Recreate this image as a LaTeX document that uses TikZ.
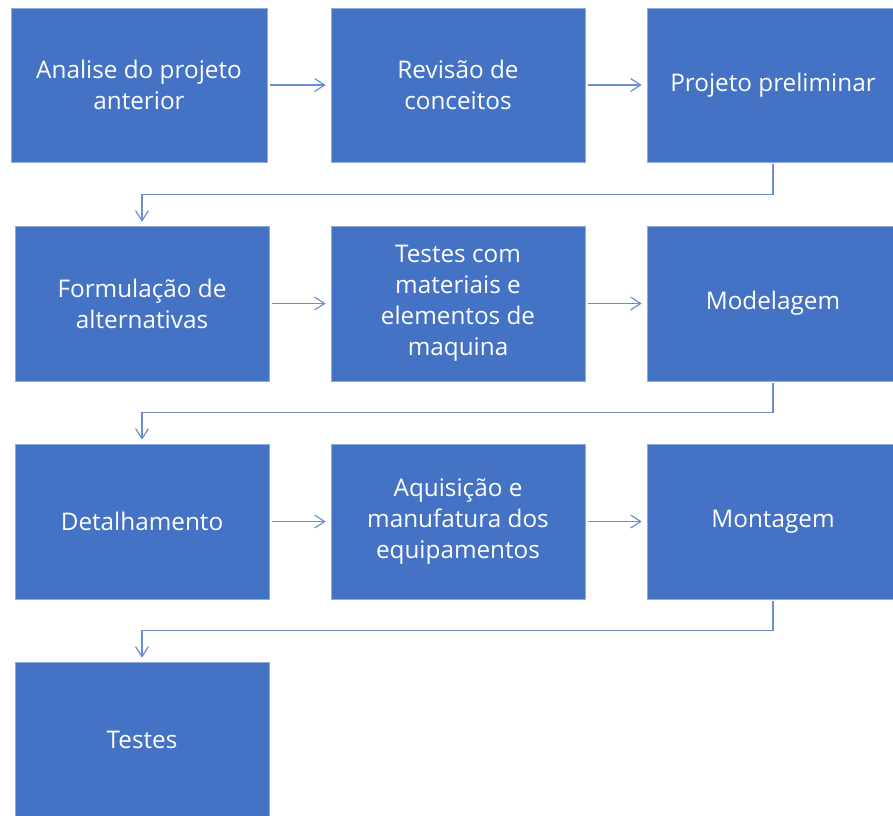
\documentclass[tikz,border=0pt]{standalone}
\usepackage{fontspec}
\setmainfont{Open Sans}
\usetikzlibrary{arrows.meta}
\definecolor{boxblue}{HTML}{4472C4}
\definecolor{boxedge}{HTML}{8FAADC}
\definecolor{arrowblue}{HTML}{6A8FD0}
\tikzset{
  box/.style={rectangle, fill=boxblue, draw=boxedge, line width=0.6pt, text=white,
    align=center, font=\fontsize{24.3}{31}\selectfont, inner sep=4pt},
  flow/.style={draw=arrowblue, line width=1.2pt,
    -{Straight Barb[length=10pt,width=13pt,line width=1.2pt]}}
}
\begin{document}
\begin{tikzpicture}[x=1pt,y=-1pt]
\useasboundingbox (0,0) rectangle (893,815);
% row 1
\node[box, minimum width=256, minimum height=154] (a1) at (139,85) {Analise do projeto\\anterior};
\node[box, minimum width=254, minimum height=154] (a2) at (458,85) {Revisão de\\conceitos};
\node[box, minimum width=252, minimum height=154] (a3) at (773,85) {Projeto preliminar};
% row 2
\node[box, minimum width=254, minimum height=155] (b1) at (142,303.5) {Formulação de\\alternativas};
\node[box, minimum width=254, minimum height=155] (b2) at (458,303.5) {Testes com\\materiais e\\elementos de\\maquina};
\node[box, minimum width=252, minimum height=155] (b3) at (773,303.5) {Modelagem};
% row 3
\node[box, minimum width=254, minimum height=155] (c1) at (142,521.5) {Detalhamento};
\node[box, minimum width=254, minimum height=155] (c2) at (458,521.5) {Aquisição e\\manufatura dos\\equipamentos};
\node[box, minimum width=252, minimum height=155] (c3) at (773,521.5) {Montagem};
% row 4
\node[box, minimum width=254, minimum height=155] (d1) at (142,739.5) {Testes};
% horizontal arrows
\draw[flow, shorten <=3pt, shorten >=5pt] (a1) -- (a2);
\draw[flow, shorten <=3pt, shorten >=5pt] (a2) -- (a3);
\draw[flow, shorten <=3pt, shorten >=5pt] (b1) -- (b2);
\draw[flow, shorten <=3pt, shorten >=5pt] (b2) -- (b3);
\draw[flow, shorten <=3pt, shorten >=5pt] (c1) -- (c2);
\draw[flow, shorten <=3pt, shorten >=5pt] (c2) -- (c3);
% elbow arrows
\draw[flow, shorten <=2pt, shorten >=4pt] (a3.south) -- ++(0,32) -| (b1.north);
\draw[flow, shorten <=2pt, shorten >=4pt] (b3.south) -- ++(0,31) -| (c1.north);
\draw[flow, shorten <=2pt, shorten >=4pt] (c3.south) -- ++(0,31) -| (d1.north);
\end{tikzpicture}
\end{document}
